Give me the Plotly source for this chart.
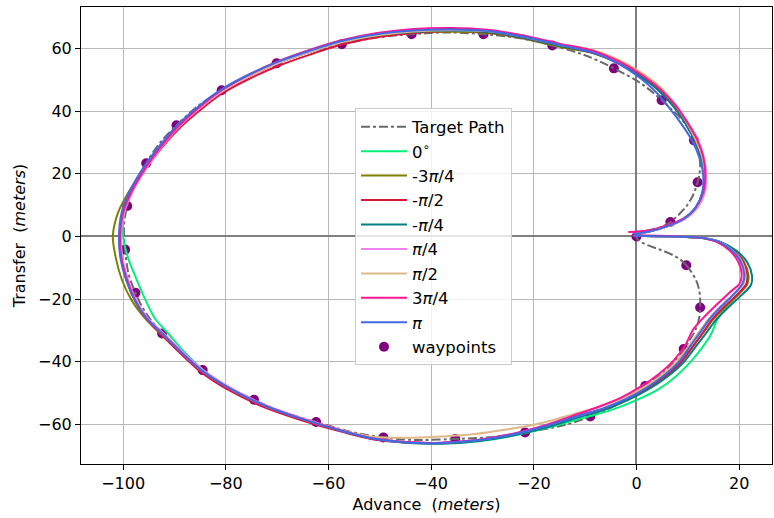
import plotly.graph_objects as go

# Waypoints of the commanded turning circle (advance, transfer) in metres
wp_x = [0, 9.7, 12.4, 9.2, 1.7, -9.0, -21.7, -35.3, -49.3, -62.4, -74.5, -84.5, -92.4, -97.6,
        -99.6, -99.2, -95.5, -89.6, -80.8, -70.1, -57.4, -43.8, -29.8, -16.4, -4.4, 4.9, 11.2, 11.9, 6.6]
wp_y = [0, -9.2, -22.7, -36.0, -47.8, -57.5, -62.6, -64.7, -64.2, -59.3, -52.2, -42.7, -31.0, -18.0,
        -4.2, 9.7, 23.4, 35.5, 46.7, 55.3, 61.4, 64.6, 64.6, 61.0, 53.7, 43.5, 30.7, 17.3, 4.6]

# Simulated tracks, one per initial heading offset
x_0deg = [-0.5, 4, 9, 13, 16.3, 18.9, 20.8, 21.6, 21.4, 19.6, 17.3, 15.6, 14.6, 12.8, 10.4, 7.6, 4.4, 0.0, -5.0, -10.0,
          -17.0, -24.0, -31.0, -38.0, -45.0, -52.0, -59.0, -66.0, -72.5, -79.0, -84.5, -88.3, -91.2, -93.8, -95.5, -97.3,
          -99.0, -100.0, -99.8, -98.3, -95.6, -92.5, -89.0, -85.2, -81.2, -76.0, -70.0, -64.0, -57.7, -50.5, -43.4, -36.0,
          -29.0, -22.0, -15.0, -8.5, -3.5, 1.0, 4.3, 7.0, 9.3, 11.3, 12.6, 13.2, 12.9, 11.6, 9.2, 6.0, 2.5, -0.5]
y_0deg = [0.2, 0.1, -0.1, -0.5, -1.8, -4.5, -8.1, -12.2, -15.2, -18.9, -23.0, -27.0, -31.0, -35.5, -40.3, -44.8, -48.7,
          -52.3, -55.5, -57.8, -61.0, -63.6, -65.4, -66.1, -65.7, -64.3, -61.3, -57.8, -54.0, -48.8, -42.5, -36.5, -31.0,
          -26.2, -20.8, -14.0, -7.0, 0.0, 7.5, 14.5, 22.0, 29.0, 35.5, 41.0, 46.0, 50.8, 55.3, 58.8, 62.0, 64.3, 65.5,
          65.9, 65.4, 63.6, 61.0, 58.8, 55.5, 51.0, 46.8, 42.0, 36.8, 31.0, 25.5, 19.5, 14.0, 9.2, 5.5, 3.2, 1.6, 0.8]

x_m3pi4 = [-0.5, 4, 9, 13, 16.4, 19.0, 20.9, 21.8, 21.6, 19.7, 17.2, 14.9, 13.1, 11.0, 8.7, 5.7, 2.2, -1.9, -6.4, -10.9,
           -17.4, -24.0, -31.0, -38.0, -45.0, -52.0, -59.0, -66.0, -72.5, -79.0, -84.9, -89.2, -92.8, -95.8, -98.3, -100.2,
           -101.4, -102.0, -101.0, -98.8, -95.7, -92.5, -89.0, -85.2, -81.2, -76.0, -70.0, -64.0, -57.7, -50.5, -43.4,
           -36.0, -29.0, -22.0, -15.0, -8.5, -3.5, 1.0, 4.3, 7.0, 9.3, 11.3, 12.6, 13.2, 12.9, 11.6, 9.2, 6.0, 2.5, -0.5]
y_m3pi4 = [0.2, 0.1, -0.1, -0.5, -1.8, -4.5, -8.1, -12.2, -15.2, -18.8, -22.6, -26.6, -30.6, -35.1, -40.1, -44.6, -48.6,
           -52.1, -55.1, -57.2, -60.5, -63.2, -65.1, -66.0, -65.7, -64.3, -61.3, -57.8, -54.0, -48.8, -42.7, -36.5, -31.0,
           -26.0, -20.5, -14.0, -7.0, 0.0, 7.5, 14.5, 22.0, 29.0, 35.5, 41.0, 46.0, 50.8, 55.3, 58.8, 62.0, 64.0, 65.1,
           65.4, 65.0, 63.2, 60.6, 58.6, 55.3, 50.9, 46.8, 42.0, 36.8, 31.0, 25.5, 19.5, 14.0, 9.2, 5.5, 3.2, 1.6, 0.8]

x_mpi2 = [-0.5, 4, 9, 13, 16.3, 18.9, 20.8, 21.6, 21.4, 19.5, 17.0, 14.7, 13.0, 11.0, 8.7, 5.7, 2.2, -1.8, -6.3, -10.8,
          -17.4, -24.0, -31.0, -38.0, -45.0, -52.0, -59.0, -66.0, -72.6, -79.2, -85.0, -89.2, -92.6, -95.6, -97.7, -99.3,
          -100.4, -100.7, -100.1, -98.3, -95.5, -92.3, -88.7, -84.9, -80.8, -75.5, -69.6, -63.6, -57.4, -50.3, -43.3,
          -36.0, -29.0, -22.0, -15.0, -8.5, -3.5, 1.0, 4.3, 7.0, 9.3, 11.3, 12.6, 13.2, 12.9, 11.6, 9.2, 6.0, 2.5, -0.5]
y_mpi2 = [0.2, 0.1, -0.1, -0.5, -1.8, -4.5, -8.1, -12.2, -15.2, -18.8, -22.6, -26.6, -30.6, -35.1, -40.1, -44.6, -48.6,
          -52.2, -55.3, -57.3, -60.6, -63.3, -65.2, -66.0, -65.8, -64.6, -61.7, -58.3, -54.5, -49.3, -43.1, -36.8, -31.2,
          -26.1, -20.5, -14.0, -7.0, 0.0, 7.5, 14.5, 21.8, 28.7, 35.1, 40.5, 45.6, 50.3, 54.6, 58.1, 61.3, 63.7, 65.0,
          65.6, 65.2, 63.4, 60.9, 58.7, 55.4, 51.0, 46.8, 42.0, 36.8, 31.0, 25.5, 19.5, 14.0, 9.2, 5.5, 3.2, 1.6, 0.8]

x_mpi4 = [-0.5, 4, 9, 13, 16.6, 19.5, 21.6, 22.5, 22.3, 20.3, 17.8, 15.4, 13.6, 11.5, 9.2, 6.0, 2.3, -1.8, -6.3, -10.8,
          -17.3, -24.0, -31.0, -38.0, -45.0, -52.0, -59.0, -66.0, -72.5, -79.0, -84.8, -89.0, -92.4, -95.5, -97.6, -99.2,
          -100.3, -100.6, -100.0, -98.3, -95.6, -92.5, -89.0, -85.2, -81.2, -76.0, -70.0, -64.0, -57.7, -50.5, -43.4,
          -36.0, -29.0, -22.0, -15.0, -8.5, -3.5, 1.0, 4.3, 7.0, 9.3, 11.3, 12.6, 13.2, 12.9, 11.6, 9.2, 6.0, 2.5, -0.5]
y_mpi4 = [0.2, 0.1, -0.1, -0.5, -1.9, -4.6, -8.3, -12.5, -15.5, -19.0, -22.8, -26.8, -30.8, -35.3, -40.2, -44.8, -48.9,
          -52.4, -55.4, -57.5, -60.9, -63.6, -65.4, -66.2, -65.9, -64.4, -61.4, -57.9, -54.0, -48.8, -42.7, -36.5, -31.0,
          -26.0, -20.5, -14.0, -7.0, 0.0, 7.5, 14.5, 22.0, 29.0, 35.5, 41.0, 46.0, 50.8, 55.3, 58.8, 62.0, 64.2, 65.3,
          65.7, 65.3, 63.5, 60.9, 58.7, 55.4, 50.9, 46.7, 42.0, 36.8, 31.0, 25.5, 19.5, 14.0, 9.2, 5.5, 3.2, 1.6, 0.8]

x_pi4 = [-0.5, 4, 9, 13, 16.2, 18.6, 20.3, 21.0, 20.7, 18.8, 16.4, 14.1, 12.3, 10.3, 8.0, 5.0, 1.6, -2.3, -6.7, -11.1,
         -17.5, -24.0, -31.0, -38.0, -45.0, -52.0, -59.0, -66.0, -72.4, -78.8, -84.6, -88.8, -92.2, -95.3, -97.4, -99.0,
         -100.1, -100.4, -99.8, -98.1, -95.4, -92.3, -88.8, -85.0, -81.0, -75.8, -69.8, -63.9, -57.6, -50.4, -43.4,
         -36.0, -29.0, -22.0, -15.0, -8.4, -3.3, 1.4, 4.8, 7.6, 9.8, 11.9, 13.1, 13.6, 13.3, 11.9, 9.4, 6.1, 2.5, -0.5]
y_pi4 = [0.2, 0.1, -0.1, -0.5, -1.8, -4.5, -8.0, -12.0, -15.0, -18.6, -22.4, -26.4, -30.5, -35.0, -40.0, -44.5, -48.5,
         -52.0, -55.0, -57.1, -60.4, -63.1, -65.0, -65.9, -65.7, -64.3, -61.2, -57.6, -53.8, -48.6, -42.5, -36.3, -30.8,
         -25.9, -20.5, -14.0, -7.0, 0.0, 7.5, 14.5, 22.0, 29.0, 35.5, 41.0, 46.0, 50.8, 55.3, 58.8, 62.0, 64.4, 65.7,
         66.1, 65.6, 63.8, 61.2, 59.0, 55.8, 51.4, 47.0, 42.2, 36.8, 31.0, 25.5, 19.5, 14.0, 9.2, 5.5, 3.2, 1.6, 0.8]

x_pi2 = [-0.5, 4, 9, 13, 16.3, 18.7, 20.5, 21.2, 20.9, 19.0, 16.5, 14.0, 12.2, 10.2, 7.8, 4.8, 1.2, -3.0, -7.5, -12.0,
         -18.5, -25.0, -32.0, -39.0, -45.0, -52.0, -59.0, -66.0, -72.5, -79.0, -84.8, -89.0, -92.4, -95.5, -97.6, -99.2,
         -100.3, -100.6, -100.0, -98.3, -95.6, -92.5, -89.0, -85.2, -81.2, -76.0, -70.0, -64.0, -57.7, -50.5, -43.4,
         -36.0, -29.0, -22.0, -15.0, -8.5, -3.5, 1.0, 4.6, 7.3, 9.6, 11.5, 12.8, 13.3, 13.0, 11.7, 9.2, 6.0, 2.5, -0.5]
y_pi2 = [0.2, 0.1, -0.1, -0.5, -1.8, -4.5, -8.0, -12.0, -15.0, -18.6, -22.4, -26.5, -30.5, -35.0, -40.0, -44.5, -48.4,
         -51.8, -54.6, -56.6, -59.6, -61.6, -63.2, -64.0, -64.3, -63.9, -61.3, -57.8, -54.0, -48.8, -42.7, -36.5, -31.0,
         -26.0, -20.5, -14.0, -7.0, 0.0, 7.5, 14.5, 22.0, 29.0, 35.5, 41.0, 46.0, 50.8, 55.3, 58.8, 62.0, 64.3, 65.5,
         65.9, 65.6, 64.1, 61.5, 59.6, 56.5, 52.3, 47.8, 42.5, 37.0, 31.0, 25.5, 19.5, 14.0, 9.2, 5.5, 3.2, 1.6, 0.8]

x_3pi4 = [-0.8, 4, 9, 12.8, 15.8, 18.2, 19.8, 20.5, 20.1, 18.2, 15.8, 13.3, 11.0, 9.6, 7.3, 4.3, 0.8, -3.0, -7.5, -11.5,
          -17.8, -24.0, -31.0, -38.0, -45.0, -52.0, -59.0, -66.0, -72.5, -79.0, -84.8, -89.0, -92.4, -95.5, -97.6, -99.2,
          -100.3, -100.6, -100.0, -98.3, -95.6, -92.5, -89.0, -85.2, -81.2, -76.0, -70.0, -64.0, -57.7, -50.5, -43.4,
          -36.0, -29.0, -22.0, -15.0, -8.5, -3.4, 1.2, 4.6, 7.4, 9.7, 11.8, 13.0, 13.4, 13.0, 11.6, 9.1, 5.8, 2.3, -1.6]
y_3pi4 = [0.4, 0.2, -0.1, -0.5, -1.9, -4.6, -8.0, -12.0, -15.0, -17.8, -21.5, -25.5, -29.8, -34.5, -39.5, -44.0, -48.0,
          -51.5, -54.5, -56.8, -60.3, -63.0, -65.0, -65.9, -65.7, -64.3, -61.3, -57.8, -54.0, -48.8, -42.7, -36.5, -31.0,
          -26.0, -20.5, -14.0, -7.0, 0.0, 7.5, 14.5, 22.0, 29.0, 35.6, 41.2, 46.3, 51.2, 55.8, 59.4, 62.6, 65.0, 66.3,
          66.6, 66.0, 64.2, 61.6, 59.3, 55.9, 51.4, 47.1, 42.3, 37.0, 31.0, 25.5, 19.5, 14.0, 9.3, 5.7, 3.5, 1.9, 1.4]

x_pi = [-0.5, 4, 9, 13, 16.2, 18.6, 20.3, 21.0, 20.7, 18.9, 16.5, 14.2, 12.5, 10.5, 8.3, 5.3, 1.8, -2.1, -6.6, -11.0,
        -17.5, -24.0, -31.0, -38.0, -45.0, -52.0, -59.0, -66.0, -72.5, -79.0, -84.8, -89.0, -92.4, -95.5, -97.7, -99.4,
        -100.5, -100.8, -100.3, -98.7, -96.0, -92.8, -89.3, -85.5, -81.5, -76.3, -70.2, -64.1, -57.8, -50.6, -43.4,
        -36.0, -29.0, -22.0, -15.0, -8.6, -3.7, 0.6, 3.7, 6.2, 8.5, 10.7, 12.2, 13.0, 12.8, 11.5, 9.1, 5.9, 2.5, -0.5]
y_pi = [0.2, 0.1, -0.1, -0.5, -1.8, -4.5, -8.0, -12.0, -15.0, -18.6, -22.4, -26.5, -30.5, -35.0, -40.0, -44.5, -48.5,
        -52.0, -55.0, -57.1, -60.5, -63.2, -65.1, -66.0, -65.8, -64.4, -61.4, -57.9, -54.0, -48.8, -42.7, -36.5, -31.0,
        -26.0, -20.5, -14.0, -7.0, 0.0, 7.5, 14.5, 22.1, 29.2, 35.8, 41.3, 46.3, 51.1, 55.6, 59.1, 62.3, 64.6, 65.8,
        66.1, 65.6, 63.8, 61.2, 58.8, 55.4, 50.8, 46.3, 41.5, 36.5, 31.0, 25.5, 19.5, 14.0, 9.2, 5.5, 3.2, 1.6, 0.8]

track_labels = ["0<sup>∘</sup>", "-3<i>π</i>/4", "-<i>π</i>/2", "-<i>π</i>/4",
                "<i>π</i>/4", "<i>π</i>/2", "3<i>π</i>/4", "<i>π</i>"]
track_colors = ["#00f07a", "#808000", "#dc143c", "#008080",
                "#ee82ee", "#deb887", "#ff1493", "#4169e1"]
tracks = [(x_0deg, y_0deg), (x_m3pi4, y_m3pi4), (x_mpi2, y_mpi2), (x_mpi4, y_mpi4),
          (x_pi4, y_pi4), (x_pi2, y_pi2), (x_3pi4, y_3pi4), (x_pi, y_pi)]

fig = go.Figure()

# Waypoints first so every line is drawn over them; listed last in the legend
fig.add_trace(go.Scatter(
    x=wp_x, y=wp_y, mode="markers", name="waypoints", legendrank=1100,
    marker=dict(color="purple", size=10, line=dict(width=0)),
))

# Target path: the waypoints joined in order, back to the start
fig.add_trace(go.Scatter(
    x=wp_x + [wp_x[0]], y=wp_y + [wp_y[0]], mode="lines", name="Target Path",
    line=dict(color="dimgray", width=2, dash="dashdot", shape="spline", smoothing=1.3),
))

for (tx, ty), lab, col in zip(tracks, track_labels, track_colors):
    fig.add_trace(go.Scatter(
        x=tx, y=ty, mode="lines", name=lab,
        line=dict(color=col, width=2, shape="spline", smoothing=0.8),
    ))

axis_common = dict(
    showgrid=True, gridcolor="#b8b8b8", gridwidth=1,
    zeroline=True, zerolinecolor="#7f7f7f", zerolinewidth=1.6,
    showline=True, linecolor="black", linewidth=1, mirror=True,
    ticks="outside", ticklen=5, tickwidth=1, tickcolor="black",
    tickfont=dict(size=16, color="black"),
)

fig.update_layout(
    width=774, height=518,
    margin=dict(l=81, r=2, t=7, b=54),
    paper_bgcolor="white", plot_bgcolor="white",
    font=dict(family="DejaVu Sans", size=16, color="black"),
    xaxis=dict(range=[-108.2, 26.4], tickvals=[-100, -80, -60, -40, -20, 0, 20],
               title=dict(text="Advance  (<i>meters</i>)", font=dict(size=16), standoff=6),
               **axis_common),
    yaxis=dict(range=[-72.7, 73.3], tickvals=[-60, -40, -20, 0, 20, 40, 60],
               title=dict(text="Transfer  (<i>meters</i>)", font=dict(size=16), standoff=8),
               **axis_common),
    legend=dict(
        x=0.3965, y=0.778, xanchor="left", yanchor="top",
        bgcolor="rgba(255,255,255,0.8)", bordercolor="#cccccc", borderwidth=1,
        font=dict(size=16.5, color="black"), itemwidth=46,
    ),
    showlegend=True,
)

fig.write_html("out.html")
